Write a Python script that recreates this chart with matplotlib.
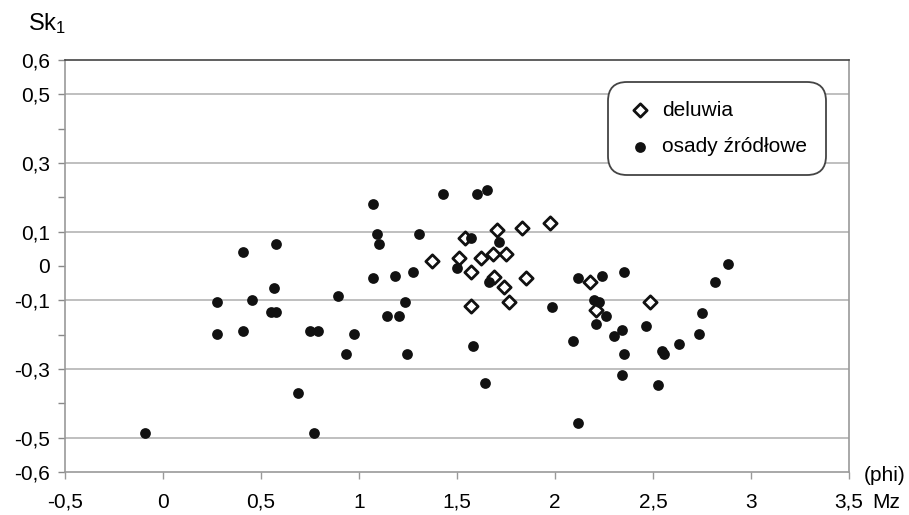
import matplotlib
matplotlib.use("Agg")
import matplotlib.pyplot as plt

plt.rcParams['font.family'] = ['Liberation Sans', 'DejaVu Sans']
plt.rcParams['mathtext.default'] = 'regular'

# deluwia (open diamonds)
del_x = [1.371, 1.543, 1.510, 1.571, 1.622, 1.685, 1.748, 1.704, 1.830, 1.973,
         1.687, 1.740, 1.850, 1.571, 1.763, 2.179, 2.209, 2.486]
del_y = [0.015, 0.082, 0.024, -0.018, 0.023, 0.035, 0.035, 0.105, 0.112, 0.124,
         -0.031, -0.062, -0.034, -0.117, -0.106, -0.048, -0.129, -0.106]

# osady zrodlowe (filled dots)
src_x = [-0.092, 0.277, 0.277, 0.410, 0.410, 0.452, 0.549, 0.577, 0.565, 0.577,
         0.689, 0.750, 0.791, 0.770, 0.895, 0.935, 0.976, 1.070, 1.090, 1.100,
         1.070, 1.145, 1.202, 1.182, 1.233, 1.243, 1.274, 1.306, 1.429, 1.498,
         1.571, 1.583, 1.602, 1.655, 1.644, 1.663, 1.714, 1.983, 2.093, 2.117,
         2.117, 2.199, 2.224, 2.209, 2.240, 2.260, 2.301, 2.343, 2.354, 2.343,
         2.354, 2.464, 2.527, 2.547, 2.557, 2.631, 2.733, 2.751, 2.816, 2.884]
src_y = [-0.486, -0.106, -0.199, 0.042, -0.188, -0.100, -0.135, -0.135, -0.064, 0.064,
         -0.369, -0.188, -0.188, -0.486, -0.087, -0.257, -0.199, 0.181, 0.094, 0.064,
         -0.035, -0.145, -0.145, -0.030, -0.106, -0.257, -0.018, 0.093, 0.211, -0.006,
         0.082, -0.234, 0.211, 0.221, -0.340, -0.048, 0.071, -0.118, -0.218, -0.036,
         -0.457, -0.099, -0.106, -0.170, -0.030, -0.145, -0.205, -0.187, -0.257, -0.317,
         -0.018, -0.175, -0.346, -0.247, -0.257, -0.228, -0.199, -0.136, -0.048, 0.005]

xticks = [-0.5, 0, 0.5, 1, 1.5, 2, 2.5, 3, 3.5]
xlabels = ['-0,5', '0', '0,5', '1', '1,5', '2', '2,5', '3', '3,5']
yticks = [-0.6, -0.5, -0.3, -0.1, 0, 0.1, 0.3, 0.5, 0.6]
ylabels = ['-0,6', '-0,5', '-0,3', '-0,1', '0', '0,1', '0,3', '0,5', '0,6']
yminor = [-0.4, -0.2, 0.2, 0.4]
grid_y = [-0.5, -0.3, -0.1, 0.1, 0.3, 0.5]

fig = plt.figure(figsize=(9.09, 5.15), dpi=100)
ax = fig.add_axes([0.0715, 0.0835, 0.8625, 0.80])

for g in grid_y:
    ax.axhline(g, color='#b4b4b4', lw=1.2, zorder=1)

ax.scatter(del_x, del_y, marker='D', s=46, facecolor='white', edgecolor='#111111',
           linewidths=2, zorder=3, label='deluwia')
ax.scatter(src_x, src_y, marker='o', s=60, color='#111111', linewidths=0,
           zorder=4, label='osady źródłowe')

ax.set_xlim(-0.5, 3.5)
ax.set_ylim(-0.6, 0.6)
ax.set_xticks(xticks)
ax.set_xticklabels(xlabels)
ax.set_yticks(yticks)
ax.set_yticklabels(ylabels)
ax.set_yticks(yminor, minor=True)

ax.tick_params(axis='y', which='both', length=5, width=1, color='#888888',
               labelsize=15, pad=6)
ax.tick_params(axis='x', length=5, width=1, color='#999999', labelsize=15, pad=10)

for side in ['left', 'bottom', 'right']:
    ax.spines[side].set_color('#999999')
    ax.spines[side].set_linewidth(1.2)
ax.spines['top'].set_color('#444444')
ax.spines['top'].set_linewidth(1.2)

fig.text(0.031, 0.93, 'Sk$_1$', fontsize=17, ha='left', va='bottom')
fig.text(0.996, 0.077, '(phi)', fontsize=15, ha='right', va='center')
ax.annotate('Mz', xy=(1, 0), xycoords='axes fraction', xytext=(17, -15),
            textcoords='offset points', fontsize=15, ha='left', va='top')

leg = ax.legend(loc='upper left', bbox_to_anchor=(0.693, 0.947), fontsize=15,
                frameon=True, fancybox=True, borderpad=0.9, labelspacing=0.85,
                handlelength=1.2, handletextpad=0.5, borderaxespad=0)
frame = leg.get_frame()
frame.set_edgecolor('#444444')
frame.set_linewidth(1.3)
frame.set_facecolor('white')
frame.set_alpha(1)
frame.set_boxstyle('round', pad=0, rounding_size=0.9)

fig.savefig('out.png', dpi=100)
